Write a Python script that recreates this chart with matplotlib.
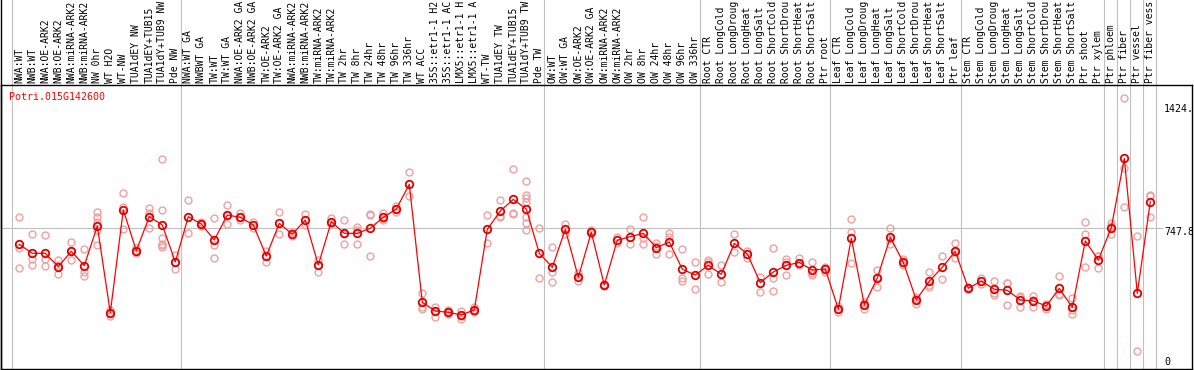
import matplotlib
matplotlib.use("Agg")
import matplotlib.pyplot as plt
import matplotlib.transforms as mtransforms

gene = "Potri.015G142600"

labels = [
    "NWA:WT", "NWB:WT", "NWA:OE-ARK2", "NWB:OE-ARK2", "NWA:miRNA-ARK2", "NWB:miRNA-ARK2",
    "NW 0hr", "WT H2O", "WT-NW", "TUA1dEY NW", "TUA1dEY+TUB15", "TUA1dY+TUB9 NW", "Pde NW",
    "NWA:WT GA", "NWBWT GA", "TW:WT", "TW:WT GA", "NWA:OE-ARK2 GA", "NWB:OE-ARK2 GA",
    "TW:OE-ARK2", "TW:OE-ARK2 GA", "NWA:miRNA-ARK2", "NWB:miRNA-ARK2", "TW:miRNA-ARK2",
    "TW:miRNA-ARK2", "TW 2hr", "TW 8hr", "TW 24hr", "TW 48hr", "TW 96hr", "TW 336hr",
    "WT ACC", "35S::etr1-1 H2", "35S::etr1-1 AC", "LMX5::etr1-1 H", "LMX5::etr1-1 A",
    "WT-TW", "TUA1dEY TW", "TUA1dEY+TUB15", "TUA1dY+TUB9 TW", "Pde TW",
    "OW:WT", "OW:WT GA", "OW:OE-ARK2", "OW:OE-ARK2 GA", "OW:miRNA-ARK2", "OW:miRNA-ARK2",
    "OW 2hr", "OW 8hr", "OW 24hr", "OW 48hr", "OW 96hr", "OW 336hr",
    "Root CTR", "Root LongCold", "Root LongDroug", "Root LongHeat", "Root LongSalt",
    "Root ShortCold", "Root ShortDrou", "Root ShortHeat", "Root ShortSalt", "Ptr root",
    "Leaf CTR", "Leaf LongCold", "Leaf LongDroug", "Leaf LongHeat", "Leaf LongSalt",
    "Leaf ShortCold", "Leaf ShortDrou", "Leaf ShortHeat", "Leaf ShortSalt", "Ptr leaf",
    "Stem CTR", "Stem LongCold", "Stem LongDroug", "Stem LongHeat", "Stem LongSalt",
    "Stem ShortCold", "Stem ShortDrou", "Stem ShortHeat", "Stem ShortSalt", "Ptr shoot",
    "Ptr xylem", "Ptr phloem", "Ptr fiber", "Ptr vessel", "Ptr fiber vess",
]

means = [
    659, 610, 610, 536, 621, 542, 760, 283, 849, 624, 812, 766, 562,
    812, 771, 683, 821, 808, 766, 595, 775, 715, 793, 546, 784, 720, 720, 748, 808, 854,
    990, 340, 292, 285, 270, 298, 742, 843, 907, 854, 610,
    533, 742, 478, 726, 435, 682, 701, 720, 641, 672, 522,
    490, 544, 494, 665, 606, 448, 507, 544, 559, 518,
    523, 303, 693, 325, 474, 698, 560, 353, 456, 533,
    621, 417, 457, 412, 406, 353, 347, 320, 417, 312, 678, 573,
    751, 1133, 390, 894,
]

replicates = [
    [812, 638, 527], [716, 577, 546], [711, 577, 542], [573, 546, 496], [672, 573, 621],
    [632, 509, 485], [839, 812, 784, 738, 656], [300, 265, 283], [941, 867, 742],
    [624, 610, 639], [858, 830, 748], [1130, 849, 693, 656, 646, 661], [601, 522, 562],
    [904, 720], [784, 771, 760], [803, 656, 582], [876, 771, 821], [830, 793, 808],
    [784, 748], [624, 564], [836, 716], [725, 705], [826, 766], [573, 509, 546],
    [803, 780, 771], [793, 716, 661], [757, 661, 741], [826, 821, 595], [830, 793, 801],
    [854, 868, 840], [1056, 926], [390, 316, 301], [316, 261, 292], [298, 285, 273],
    [294, 250, 267], [316, 287, 292], [821, 665], [904, 812, 813], [1074, 830, 825],
    [1008, 931, 913, 894, 812, 775, 738], [748, 472], [643, 509, 450], [771, 716],
    [500, 459], [738, 714], [435, 441, 430], [698, 665], [745, 661], [810, 693, 660],
    [665, 606, 650], [720, 698, 606], [634, 472, 457], [564, 412], [573, 494, 562],
    [546, 453], [716, 619], [623, 582], [481, 398], [638, 472, 404], [577, 490, 564],
    [586, 546, 551], [564, 490, 500], [536, 527, 507], [303, 288, 317], [797, 726, 555],
    [343, 301, 331], [518, 423, 481], [748, 661, 686], [577, 546, 559], [371, 329, 358],
    [505, 435, 426], [595, 467], [665, 582, 616], [426, 411, 414], [472, 441],
    [457, 393, 380], [448, 325, 445], [375, 316, 368], [375, 316, 351], [331, 301, 327],
    [485, 386, 380], [362, 298, 274], [781, 716, 533], [595, 527, 597], [775, 716, 760],
    [1464, 1078, 863], [705, 72], [931, 925, 812],
]

group_starts = [0, 13, 41, 53, 63, 73, 84, 85, 86, 87, 88]
tick_values = [1424, 747.8, 0]
tick_texts = ["1424.", "747.8", "0"]

W, H = 1194, 370
fig = plt.figure(figsize=(W / 100, H / 100), dpi=100)
fig.patch.set_facecolor("white")

# pixel geometry
x0_px, dx_px = 19.3, 13.0
y0_px, k_px = 364.0, 0.1815
ax_left, ax_right = 1.0, 1192.0
ax_top, ax_bot = 85.0, 369.3

ax = fig.add_axes([ax_left / W, (H - ax_bot) / H, (ax_right - ax_left) / W, (ax_bot - ax_top) / H])
ax.set_xlim((ax_left - x0_px) / dx_px, (ax_right - x0_px) / dx_px)
ax.set_ylim((y0_px - ax_bot) / k_px, (y0_px - ax_top) / k_px)
ax.set_xticks([])
ax.set_yticks([])
for s in ax.spines.values():
    s.set_color("black")
    s.set_linewidth(1.0)

mono = "DejaVu Sans Mono"
grey = "#c0c0c0"
fs = 7.0

# separators across plot and label region
trans_xfig = mtransforms.blended_transform_factory(ax.transData, fig.transFigure)
for k in group_starts:
    ax.plot([k - 0.6, k - 0.6], [0, 1], transform=trans_xfig, color=grey, lw=0.8,
            clip_on=False, zorder=1)

# left border of label region
fig.add_artist(plt.Line2D([1.0 / W, 1.0 / W], [0, 1], color="black", lw=1.0))

# horizontal reference line
ax.axhline(747.8, xmin=0, xmax=(1162 - ax_left) / (ax_right - ax_left), color=grey, lw=0.8, zorder=1)

# replicates
for i, reps in enumerate(replicates):
    ax.plot([i] * len(reps), reps, linestyle="none", marker="o", markersize=5,
            markerfacecolor="none", markeredgecolor="#f0a0a0", markeredgewidth=1.0, zorder=2)

# means
xs = list(range(len(means)))
ax.plot(xs, means, color="#ff0000", lw=0.9, marker="o", markersize=5.4,
        markerfacecolor="none", markeredgecolor="#e00000", markeredgewidth=1.3, zorder=3)

# column labels
label_y = (H - 83.0) / H
for i, lab in enumerate(labels):
    ax.text(i, label_y, lab, transform=trans_xfig, rotation=90, ha="center", va="bottom",
            fontsize=fs, family=mono, color="black", clip_on=False)

# gene name
ax.text(9.0 / W, (H - 96.5) / H, gene, transform=fig.transFigure, ha="left", va="center",
        fontsize=7.2, family=mono, color="#ff0000")

# y tick labels on right
tx = (1164 - x0_px) / dx_px
for v, t in zip(tick_values, tick_texts):
    if v == 0:
        ax.text(tx, (y0_px - 361.7) / k_px, t, ha="left", va="center", fontsize=7.2,
                family=mono, color="black", clip_on=True)
    else:
        ax.text(tx, v + 1.6 / k_px, t, ha="left", va="top", fontsize=7.2,
                family=mono, color="black", clip_on=True)

fig.savefig("out.png", dpi=100, facecolor="white")
